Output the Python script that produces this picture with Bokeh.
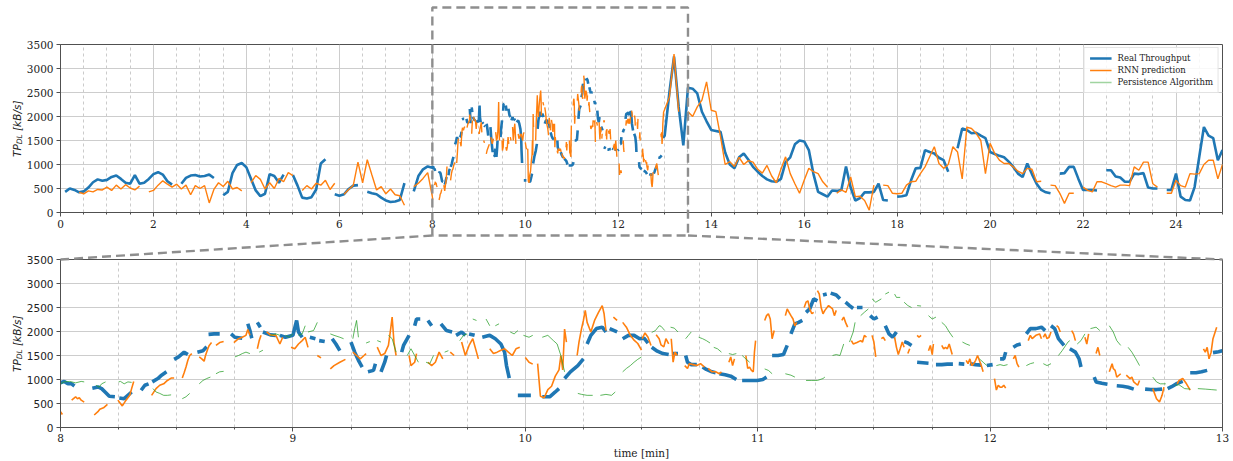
import numpy as np
from bokeh.plotting import figure
from bokeh.layouts import column
from bokeh.models import Range1d, SingleIntervalTicker, Legend, LegendItem
from bokeh.core.properties import value
from bokeh.embed import file_html
from bokeh.resources import INLINE

# ---------------- data (time in minutes, throughput in kB/s) ----------------
# coarse samples, 0.0 .. 7.9 min (step 0.1), None = missing
REAL_A = [None, 430, 500, 470, 420, 440, 520, 630, 690, 660,
          680, 740, 770, 700, 620, 600, 780, 600, 620, 700,
          800, 840, 790, 650, 580, None, 600, 720, 770, 780,
          750, 760, 790, 720, None, 360, 430, 820, 990, 1030,
          940, 700, 460, 340, 390, 800, 760, 620, 790, None,
          780, 560, 310, 290, 320, 480, 1020, 1110, None, 380,
          350, 380, 490, 560, 570, None, 430, 400, 380, 310,
          250, 220, 230, 260, 610, None, 440, 760, 900, 960]
RNN_A = [None, None, None, None, 420, 390, 450, 430, 480, 470,
         530, 460, 570, 490, 580, 510, 470, 550, None, 430,
         460, 570, 660, 590, 530, 590, 490, 570, 370, 560,
         500, 560, 200, 480, 620, 540, 650, 490, 520, 450,
         None, 620, 770, 690, 490, 620, 500, 710, 640, 830,
         770, None, 460, 560, 490, 610, 570, 670, 480, 610,
         None, 380, 480, 570, 1050, 620, 1100, 780, 470, 540,
         390, 490, 370, 350, 150, None, 540, 610, 710, 830]

# coarse samples, 13.1 .. 25.0 min (step 0.1)
REAL_B = [2500, 3250, 2200, 1400, 2600, 2580, 2480, 2100, 1900,
          1720, 1700, 1680, 1250, 1000, 920, 1150, 1230, 1100, 950,
          850, 760, 690, 650, 640, 700, 1050, 1150, 1420, 1500,
          1480, 1300, 800, 430, 380, 330, 460, 450, 470, 960,
          520, 250, 300, 420, 420, 430, 600, 260, 250, None,
          330, 340, 360, 670, 920, 930, 1300, 1260, 1230, 1140,
          1090, 850, None, 1340, 1750, 1720, 1650, 1660, 1600, 1550,
          1260, 1220, 1180, 1150, 1060, 950, 810, 740, 1020, 800,
          600, 470, 420, 400, None, 810, 820, 950, 950, 700,
          470, 470, 470, 460, None, 880, 880, 750, 730, 640,
          640, 810, 800, 820, 520, 500, 500, None, 470, 470,
          810, 330, 260, 250, 530, 1160, 1780, 1600, 1550, 1090,
          1300]
RNN_B = [2400, 3300, 2100, None, 2100, 2000, 2200, 2340, 2720,
         2130, 2100, 1580, 1000, 1060, 960, 1150, 1000, 1080, 1050,
         900, 820, 980, 760, 620, 900, 1160, 810, 600, 400,
         670, 920, 850, 810, 640, 530, None, 400, 470, 420,
         740, 330, 340, 250, 50, 570, None, 570, 560, 400,
         390, 400, 570, 640, 650, 810, 950, 1160, 1370, 1020,
         920, 1000, 1370, 1260, 700, 1780, 1750, 1650, 1500, 810,
         1440, 1230, 1090, 1020, 1020, 950, 860, 810, 920, 900,
         640, 650, None, 570, 560, 400, 190, 400, 400, None,
         530, 460, 430, 640, 640, 600, 560, 530, 570, 570,
         560, 950, 880, 1050, 1050, 600, 530, None, 400, 400,
         670, 560, 530, 810, 800, 810, 1000, 1090, 1090, 700,
         1000]

# fine samples of the zoomed window 8 .. 13 min, as (time, value) segments
REAL_ZOOM = [
    [(8.000, 930), (8.016, 960), (8.032, 910), (8.048, 910), (8.060, 865)],
    [(8.137, 820), (8.161, 845), (8.177, 810), (8.194, 730), (8.210, 650), (8.234, 640)],
    [(8.253, 615), (8.274, 600), (8.290, 670), (8.306, 740)],
    [(8.347, 775), (8.363, 880), (8.379, 910)],
    [(8.395, 950), (8.419, 1020), (8.435, 1090), (8.456, 1160)],
    [(8.489, 1420), (8.508, 1470), (8.532, 1570), (8.548, 1520)],
    [(8.589, 1570), (8.613, 1600), (8.629, 1680)],
    [(8.637, 1940), (8.661, 1950), (8.685, 1950)],
    [(8.734, 1950), (8.750, 1880), (8.782, 1860)],
    [(8.806, 2160), (8.815, 2020), (8.823, 1860)],
    [(8.847, 2190), (8.860, 2090)],
    [(8.871, 1990), (8.903, 1930), (8.927, 1920)],
    [(8.944, 1920), (8.968, 1880), (9.000, 1920), (9.016, 2230), (9.024, 1990), (9.040, 1880)],
    [(9.073, 1880), (9.097, 1850)],
    [(9.113, 1810), (9.137, 1790)],
    [(9.169, 1850), (9.185, 1740), (9.202, 1600)],
    [(9.250, 1780), (9.266, 1570), (9.282, 1400), (9.298, 1260)],
    [(9.323, 1160), (9.347, 1190), (9.355, 1330)],
    [(9.379, 1160), (9.395, 1360), (9.403, 1500)],
    [(9.468, 1570), (9.476, 1710), (9.500, 1920)],
    [(9.524, 2120), (9.532, 2260), (9.548, 2260)],
    [(9.581, 2230), (9.597, 2120)],
    [(9.637, 2160), (9.661, 2020), (9.685, 1990)],
    [(9.702, 1920), (9.726, 1990), (9.742, 1920)],
    [(9.758, 1950), (9.782, 1920)],
    [(9.815, 1880), (9.847, 1920), (9.871, 1850), (9.895, 1740), (9.911, 1570), (9.919, 1290), (9.931, 1030)],
    [(9.968, 670), (9.992, 670), (10.024, 670)],
    [(10.073, 640), (10.105, 640), (10.129, 740), (10.145, 810)],
    [(10.169, 1020), (10.194, 1160), (10.226, 1290), (10.250, 1430)],
    [(10.266, 1740), (10.282, 1920), (10.306, 2060), (10.331, 2090), (10.347, 1990)],
    [(10.363, 2060), (10.395, 1990)],
    [(10.419, 1850), (10.444, 1920), (10.468, 1920), (10.492, 1850), (10.511, 1860), (10.528, 1760)],
    [(10.544, 1670), (10.568, 1590), (10.592, 1540), (10.617, 1520)],
    [(10.633, 1540), (10.657, 1540)],
    [(10.690, 1500), (10.698, 1360), (10.714, 1310), (10.738, 1310)],
    [(10.763, 1260), (10.779, 1210), (10.803, 1160), (10.819, 1140)],
    [(10.835, 1120), (10.860, 1100), (10.884, 1070), (10.908, 1000)],
    [(10.933, 980), (10.965, 980), (10.998, 980), (11.022, 1000), (11.038, 1050)],
    [(11.062, 1500), (11.087, 1500), (11.111, 1520), (11.127, 1710)],
    [(11.143, 1950), (11.160, 2160), (11.176, 2190), (11.192, 2230)],
    [(11.208, 2400), (11.224, 2470), (11.241, 2680), (11.257, 2640)],
    [(11.281, 2760), (11.297, 2780)],
    [(11.314, 2800), (11.338, 2760), (11.354, 2680)],
    [(11.378, 2610), (11.395, 2540), (11.411, 2480)],
    [(11.427, 2500), (11.451, 2500)],
    [(11.484, 2330), (11.500, 2260), (11.516, 2300)],
    [(11.549, 2120), (11.565, 1950), (11.581, 1880), (11.597, 1990)],
    [(11.630, 1790), (11.646, 1760), (11.662, 1710)],
    [(11.686, 1360), (11.711, 1350), (11.735, 1340)],
    [(11.767, 1310), (11.792, 1310), (11.816, 1320), (11.840, 1320)],
    [(11.865, 1330), (11.889, 1320)],
    [(11.913, 1330), (11.938, 1310), (11.962, 1300)],
    [(11.986, 1290), (12.011, 1310)],
    [(12.043, 1430), (12.059, 1430), (12.067, 1570)],
    [(12.100, 1670), (12.116, 1720), (12.132, 1740)],
    [(12.156, 1950), (12.173, 2060), (12.197, 2060), (12.221, 2090), (12.237, 2020)],
    [(12.262, 2120), (12.278, 2060), (12.294, 1850), (12.318, 1710)],
    [(12.343, 1640), (12.367, 1570), (12.383, 1430), (12.391, 1260)],
    [(12.448, 1050), (12.456, 950), (12.481, 920), (12.505, 900)],
    [(12.545, 870), (12.570, 860), (12.594, 840), (12.618, 800)],
    [(12.667, 800), (12.691, 790), (12.716, 790), (12.740, 800)],
    [(12.764, 810), (12.781, 850), (12.805, 920), (12.829, 960)],
    [(12.861, 1140), (12.886, 1140), (12.910, 1160), (12.934, 1190)],
    [(12.959, 1560), (12.983, 1580), (12.999, 1600)],
]

RNN_ZOOM = [
    [(8.000, 330), (8.008, 270)],
    [(8.048, 570), (8.065, 640), (8.073, 600), (8.081, 620), (8.089, 570), (8.102, 530)],
    [(8.145, 260), (8.161, 330), (8.169, 380), (8.185, 410), (8.202, 480)],
    [(8.247, 570), (8.258, 500), (8.266, 450), (8.282, 570), (8.298, 670), (8.306, 810), (8.315, 960)],
    [(8.392, 670), (8.411, 810), (8.427, 880), (8.444, 910), (8.460, 980), (8.476, 1030), (8.489, 1030)],
    [(8.524, 1030), (8.532, 1140), (8.540, 1260), (8.548, 1400), (8.556, 1500), (8.565, 1540)],
    [(8.597, 1470), (8.608, 1430), (8.618, 1380), (8.624, 1500), (8.634, 1640), (8.640, 1710), (8.650, 1770)],
    [(8.669, 1710), (8.685, 1770), (8.702, 1790)],
    [(8.746, 1770), (8.766, 1850), (8.782, 1880), (8.798, 1920), (8.806, 2040), (8.815, 1920)],
    [(8.847, 1640), (8.855, 1810), (8.863, 1920)],
    [(8.887, 1990), (8.903, 1930), (8.927, 1920), (8.944, 1740), (8.956, 1880)],
    [(8.992, 1670), (9.008, 1640), (9.024, 1740), (9.040, 1810), (9.053, 1880), (9.065, 1670)],
    [(9.105, 1500), (9.121, 1450)],
    [(9.161, 1220), (9.177, 1290), (9.202, 1360), (9.226, 1420)],
    [(9.258, 1570), (9.274, 1500), (9.290, 1430), (9.306, 1500), (9.315, 1540)],
    [(9.363, 1675), (9.379, 1500), (9.395, 1540), (9.411, 1710), (9.419, 1990), (9.427, 2300), (9.435, 1770), (9.444, 1500)],
    [(9.500, 1500), (9.508, 1290), (9.524, 1360), (9.532, 1540)],
    [(9.581, 1360), (9.597, 1290), (9.613, 1360), (9.629, 1570), (9.645, 1430)],
    [(9.677, 1570), (9.694, 1500)],
    [(9.726, 1780), (9.742, 1500), (9.758, 1710), (9.774, 1850), (9.790, 1570), (9.798, 1430)],
    [(9.847, 1640), (9.863, 1540), (9.879, 1570), (9.895, 1610), (9.911, 1640), (9.927, 1570), (9.944, 1500), (9.960, 1640), (9.976, 1670)],
    [(10.000, 1460), (10.016, 1360), (10.032, 1320)],
    [(10.053, 1330), (10.065, 650), (10.081, 620), (10.097, 790), (10.113, 860), (10.129, 1070), (10.145, 1200),
     (10.153, 1500), (10.161, 1200), (10.169, 2050), (10.177, 1780)],
    [(10.223, 1500), (10.231, 1780), (10.242, 2060), (10.250, 2230), (10.258, 2440), (10.266, 2190), (10.282, 1990),
     (10.298, 2230), (10.315, 2400), (10.331, 2540), (10.339, 2370), (10.347, 2020)],
    [(10.379, 2300), (10.395, 2230)],
    [(10.419, 2190), (10.435, 2090), (10.452, 1920), (10.468, 1820), (10.484, 1750), (10.500, 1610)],
    [(10.503, 1850), (10.515, 1970), (10.528, 1880), (10.541, 1710)],
    [(10.563, 1930), (10.576, 1850), (10.584, 1720), (10.596, 1680), (10.605, 1850), (10.617, 1740)],
    [(10.628, 1850), (10.636, 1360), (10.644, 1570), (10.654, 1500)],
    [(10.686, 1290), (10.698, 1230), (10.706, 1330), (10.722, 1310), (10.738, 1290), (10.754, 1330), (10.771, 1260)],
    [(10.787, 1230), (10.803, 1160), (10.819, 1160), (10.835, 1120), (10.844, 1160)],
    [(10.876, 1360), (10.884, 1470), (10.892, 1290), (10.900, 1430)],
    [(10.949, 1500), (10.957, 1230), (10.965, 1260), (10.973, 1190), (10.981, 1160), (10.986, 1570), (10.991, 1810)],
    [(11.030, 2230), (11.038, 2330), (11.046, 2370), (11.054, 2260), (11.062, 1850), (11.071, 2020)],
    [(11.119, 2330), (11.127, 2470), (11.135, 2400), (11.143, 2330), (11.152, 2260), (11.160, 2120), (11.168, 2190)],
    [(11.200, 2500), (11.208, 2610), (11.216, 2640), (11.224, 2470), (11.233, 2370), (11.241, 2400)],
    [(11.257, 2850), (11.265, 2780), (11.273, 2500), (11.281, 2370), (11.289, 2440), (11.305, 2540), (11.322, 2470),
     (11.330, 2330), (11.338, 2440)],
    [(11.362, 2230), (11.370, 2300), (11.378, 2190), (11.387, 2090)],
    [(11.403, 1810), (11.411, 1740), (11.427, 1770), (11.443, 1810), (11.451, 1780), (11.459, 1920), (11.468, 1880)],
    [(11.492, 1920), (11.500, 1780), (11.508, 1470)],
    [(11.532, 1850), (11.540, 1880), (11.549, 1810)],
    [(11.589, 1880), (11.597, 1670), (11.605, 1520), (11.613, 1640), (11.622, 1780), (11.630, 1670)],
    [(11.646, 1540), (11.654, 1640)],
    [(11.686, 1920), (11.694, 1880), (11.703, 1920)],
    [(11.735, 1600), (11.743, 1710), (11.751, 1520), (11.756, 1740)],
    [(11.792, 1710), (11.800, 1640), (11.808, 1670), (11.816, 1640), (11.824, 1740), (11.837, 1520)],
    [(11.897, 1400), (11.905, 1330), (11.913, 1430), (11.921, 1290), (11.929, 1330), (11.938, 1400), (11.946, 1500),
     (11.962, 1290), (11.970, 1160)],
    [(12.019, 1020), (12.027, 780), (12.035, 880), (12.043, 840), (12.051, 840), (12.059, 880), (12.067, 820)],
    [(12.100, 1430), (12.108, 1500), (12.116, 1330), (12.124, 1260)],
    [(12.164, 1810), (12.173, 1920), (12.181, 1850), (12.197, 1920), (12.213, 1950), (12.221, 1850)],
    [(12.229, 1880), (12.237, 1950), (12.245, 1850), (12.254, 1880), (12.262, 1990)],
    [(12.286, 2120), (12.294, 2090), (12.302, 1990)],
    [(12.351, 2020), (12.359, 1950), (12.367, 1810)],
    [(12.408, 1880), (12.416, 1740), (12.424, 1950)],
    [(12.456, 1540), (12.464, 1670), (12.472, 1500)],
    [(12.513, 1160), (12.525, 1330), (12.530, 1230), (12.538, 1190), (12.545, 1050), (12.562, 1120)],
    [(12.586, 1090), (12.602, 1020), (12.610, 1050), (12.618, 950), (12.635, 880), (12.643, 980)],
    [(12.700, 810), (12.716, 600), (12.729, 530), (12.740, 670), (12.748, 840)],
    [(12.805, 910), (12.813, 980), (12.829, 1020), (12.845, 910), (12.861, 780)],
    [(12.918, 1640), (12.926, 1570), (12.934, 1670), (12.942, 1430), (12.951, 1570), (12.959, 1850), (12.975, 2090)],
]

PERSIST_ZOOM = [
    [(8.000, 910), (8.016, 950), (8.040, 960), (8.065, 930), (8.089, 960), (8.102, 950)],
    [(8.153, 880), (8.166, 840), (8.177, 910), (8.194, 950)],
    [(8.250, 950), (8.258, 960), (8.274, 910), (8.290, 950), (8.306, 940)],
    [(8.398, 810), (8.411, 740), (8.427, 710), (8.444, 670), (8.460, 670), (8.476, 680)],
    [(8.524, 600), (8.540, 640), (8.556, 710)],
    [(8.597, 910), (8.613, 980), (8.629, 1020), (8.645, 1050)],
    [(8.669, 1120), (8.685, 1160), (8.702, 1170)],
    [(8.750, 1470), (8.766, 1500), (8.782, 1540), (8.798, 1570), (8.815, 1540)],
    [(8.855, 1570), (8.871, 1610)],
    [(8.903, 1920), (8.927, 1950), (8.944, 1920)],
    [(8.968, 1920), (8.984, 1880), (9.000, 1950)],
    [(9.024, 1920), (9.040, 1950), (9.053, 2120)],
    [(9.065, 1990), (9.089, 2020), (9.105, 2190)],
    [(9.161, 1950), (9.177, 1920), (9.202, 1880), (9.218, 1850)],
    [(9.258, 1850), (9.266, 2060), (9.274, 2230), (9.282, 1880)],
    [(9.315, 1760), (9.331, 1790)],
    [(9.363, 1810), (9.379, 1780)],
    [(9.411, 1920), (9.427, 1850), (9.444, 1570)],
    [(9.492, 1500), (9.508, 1640), (9.524, 1500), (9.540, 1360)],
    [(9.573, 1360), (9.589, 1330), (9.605, 1500)],
    [(9.653, 1570), (9.669, 1600)],
    [(9.718, 1810), (9.734, 1920), (9.750, 1950)],
    [(9.774, 2260), (9.790, 2230)],
    [(9.831, 2260), (9.847, 2120)],
    [(9.871, 2120), (9.887, 2160)],
    [(9.935, 1990), (9.952, 1950), (9.968, 2020)],
    [(9.992, 1920), (10.016, 1880), (10.032, 1920)],
    [(10.073, 1880), (10.097, 1920), (10.121, 1810), (10.137, 1740), (10.153, 1500), (10.169, 1160)],
    [(10.226, 710), (10.242, 690), (10.266, 670), (10.290, 670)],
    [(10.323, 670), (10.347, 690), (10.371, 670), (10.387, 740)],
    [(10.419, 1160), (10.435, 1230), (10.452, 1290), (10.468, 1360), (10.484, 1420), (10.500, 1470)],
    [(10.544, 1980), (10.560, 2020), (10.576, 2120), (10.584, 2110), (10.600, 2020)],
    [(10.625, 2090), (10.641, 2070), (10.657, 1990)],
    [(10.690, 1850), (10.702, 1920), (10.714, 1990)],
    [(10.746, 1880), (10.763, 1850), (10.779, 1810), (10.795, 1760)],
    [(10.811, 1670), (10.827, 1640), (10.844, 1570)],
    [(10.876, 1540), (10.892, 1520), (10.908, 1540)],
    [(10.933, 1500), (10.949, 1430), (10.965, 1360)],
    [(11.030, 1220), (11.046, 1190), (11.062, 1120)],
    [(11.119, 1120), (11.143, 1090), (11.160, 1050)],
    [(11.208, 980), (11.233, 980), (11.257, 980), (11.281, 1020), (11.289, 1050)],
    [(11.322, 1500), (11.338, 1520), (11.354, 1500), (11.370, 1740)],
    [(11.395, 1780), (11.411, 1990), (11.419, 2190)],
    [(11.443, 2330), (11.459, 2400), (11.476, 2470)],
    [(11.492, 2680), (11.508, 2610), (11.532, 2680)],
    [(11.549, 2780), (11.565, 2820)],
    [(11.589, 2780), (11.597, 2710), (11.613, 2710)],
    [(11.630, 2610), (11.646, 2540), (11.662, 2500)],
    [(11.686, 2540), (11.703, 2530)],
    [(11.735, 2330), (11.751, 2260), (11.767, 2300)],
    [(11.792, 2190), (11.808, 2120), (11.824, 1990), (11.840, 1880)],
    [(11.881, 1780), (11.897, 1740), (11.913, 1710)],
    [(11.954, 1430), (11.970, 1360), (11.986, 1290)],
    [(12.027, 1290), (12.043, 1310), (12.059, 1290), (12.075, 1310)],
    [(12.156, 1290), (12.173, 1330), (12.189, 1350)],
    [(12.229, 1330), (12.245, 1290), (12.262, 1330)],
    [(12.294, 1500), (12.310, 1600), (12.335, 1780), (12.343, 1810)],
    [(12.375, 1740), (12.391, 1810), (12.408, 1950)],
    [(12.432, 2060), (12.456, 2090), (12.472, 2020)],
    [(12.513, 2120), (12.530, 1990), (12.545, 1810), (12.562, 1710)],
    [(12.594, 1670), (12.610, 1570), (12.627, 1430), (12.643, 1290)],
    [(12.700, 1050), (12.716, 950), (12.732, 910), (12.756, 910)],
    [(12.797, 880), (12.813, 890), (12.837, 810), (12.861, 800)],
    [(12.894, 810), (12.926, 800), (12.951, 790), (12.975, 780)],
]

SERIES_NAMES = ["Real Throughput", "RNN prediction", "Persistence Algorithm"]
COLORS = ["#1f77b4", "#ff7f0e", "#2ca02c"]
TOP_XTICK_STEP = 2
BOT_XTICK_STEP = 1
Y_TICK_STEP = 500
TOP_XRANGE = (0, 25)
ZOOM_XRANGE = (8, 13)
INSET_END = 13.5
Y_MAX = 3500
Y_LABEL = ["TP", "DL", "[kB/s]"]


def flatten(segments):
    xs, ys = [], []
    for i, seg in enumerate(segments):
        if i:
            xs.append(np.nan)
            ys.append(np.nan)
        for t, v in seg:
            xs.append(t)
            ys.append(v)
    return xs, ys


def coarse_times(start, n):
    return list(np.round(start + 0.1 * np.arange(n), 2))


def as_float(vals):
    return list(np.array(vals, dtype=float))


real_zx, real_zy = flatten(REAL_ZOOM)
rnn_zx, rnn_zy = flatten(RNN_ZOOM)
per_zx, per_zy = flatten(PERSIST_ZOOM)

real_tx = coarse_times(0.0, len(REAL_A)) + real_zx + coarse_times(13.1, len(REAL_B))
real_ty = as_float(REAL_A) + real_zy + as_float(REAL_B)
rnn_tx = coarse_times(0.0, len(RNN_A)) + rnn_zx + coarse_times(13.1, len(RNN_B))
rnn_ty = as_float(RNN_A) + rnn_zy + as_float(RNN_B)

# ---------------- layout geometry (page has no margin) ----------------
FRAME_W = 1162
LEFT, RIGHT = 60, 10
TOP_BT, TOP_FH, TOP_BB = 44, 168, 33
BOT_BT, BOT_FH, BOT_BB = 14, 168, 33
GRID_C = "#cdcdcd"
SPINE_C = "#505050"
INSET_C = "#8e8e8e"
TXT_C = "#222222"


def style(p, xstep, minor, xfont, yfont):
    p.background_fill_color = "white"
    p.border_fill_color = "white"
    p.outline_line_color = SPINE_C
    p.outline_line_width = 1
    p.xaxis.ticker = SingleIntervalTicker(interval=xstep, num_minor_ticks=minor)
    p.yaxis.ticker = SingleIntervalTicker(interval=Y_TICK_STEP, num_minor_ticks=0)
    for ax, f in ((p.xaxis[0], xfont), (p.yaxis[0], yfont)):
        ax.axis_line_color = SPINE_C
        ax.major_tick_line_color = SPINE_C
        ax.minor_tick_line_color = SPINE_C
        ax.major_tick_out = 4
        ax.major_tick_in = 0
        ax.minor_tick_out = 2
        ax.minor_tick_in = 0
        ax.major_label_text_font = f
        ax.major_label_text_font_size = "10.5px"
        ax.major_label_text_color = TXT_C
        ax.major_label_standoff = 3
    p.yaxis.minor_tick_line_color = None
    p.xgrid.grid_line_color = GRID_C
    p.xgrid.grid_line_width = 1
    p.xgrid.minor_grid_line_color = "#b5b5b5"
    p.xgrid.minor_grid_line_dash = "3 3"
    p.xgrid.minor_grid_line_width = 0.7
    p.ygrid.grid_line_color = GRID_C
    p.ygrid.grid_line_width = 1


def ylabel(p, xr, fh):
    ux = (xr[1] - xr[0]) / FRAME_W
    uy = Y_MAX / fh
    start = fh / 2 - 28.5
    offs = [0.0, 12.7, 26.0]
    sizes = ["10.5px", "7.5px", "10.5px"]
    dxs = [0.0, 3.3, 0.0]
    for txt, off, size, dx in zip(Y_LABEL, offs, sizes, dxs):
        p.text(x=[xr[0] + (-44 + dx) * ux], y=[(start + off) * uy], text=[txt],
               angle=np.pi / 2, text_font=value("DejaVu Sans"), text_font_style="italic",
               text_font_size=size, text_color=TXT_C, text_align="left",
               text_baseline="middle", level="overlay")


# ---------------- top panel ----------------
top = figure(frame_width=FRAME_W, frame_height=TOP_FH, x_range=Range1d(*TOP_XRANGE),
             y_range=Range1d(0, Y_MAX), output_backend="svg", toolbar_location=None,
             min_border_left=LEFT, min_border_right=RIGHT, min_border_top=TOP_BT,
             min_border_bottom=TOP_BB)
style(top, TOP_XTICK_STEP, 4, "DejaVu Serif", "DejaVu Serif")
r_real = top.line(real_tx, real_ty, line_color=COLORS[0], line_width=2.6)
r_rnn = top.line(rnn_tx, rnn_ty, line_color=COLORS[1], line_width=1.4)
r_per = top.line([TOP_XRANGE[0]], [np.nan], line_color=COLORS[2], line_width=1.6, line_alpha=0.45)
legend = Legend(items=[LegendItem(label=SERIES_NAMES[0], renderers=[r_real]),
                       LegendItem(label=SERIES_NAMES[1], renderers=[r_rnn]),
                       LegendItem(label=SERIES_NAMES[2], renderers=[r_per])],
                location="top_right")
legend.label_text_font = "DejaVu Serif"
legend.label_text_font_size = "8.5px"
legend.label_text_color = TXT_C
legend.glyph_width = 22
legend.glyph_height = 10
legend.label_height = 10
legend.spacing = 2
legend.padding = 5
legend.margin = 3
legend.label_standoff = 6
legend.border_line_color = "#cccccc"
legend.background_fill_alpha = 0.85
top.add_layout(legend)
ylabel(top, TOP_XRANGE, TOP_FH)

# inset rectangle + connectors (in top-panel coordinates)
uy_t = Y_MAX / TOP_FH
gap = TOP_BB + BOT_BT
r_top = Y_MAX + 37 * uy_t
r_bot = -23 * uy_t
dash = dict(line_color=INSET_C, line_width=2.4, line_dash="9 5", level="overlay")
top.line([ZOOM_XRANGE[0], ZOOM_XRANGE[0], INSET_END, INSET_END, ZOOM_XRANGE[0]],
         [r_bot, r_top, r_top, r_bot, r_bot], **dash)
top.line([ZOOM_XRANGE[0], TOP_XRANGE[0]], [r_bot, -gap * uy_t], **dash)
top.line([INSET_END, TOP_XRANGE[1]], [r_bot, -gap * uy_t], **dash)

# ---------------- bottom (zoom) panel ----------------
bot = figure(frame_width=FRAME_W, frame_height=BOT_FH, x_range=Range1d(*ZOOM_XRANGE),
             y_range=Range1d(0, Y_MAX), output_backend="svg", toolbar_location=None,
             min_border_left=LEFT, min_border_right=RIGHT, min_border_top=BOT_BT,
             min_border_bottom=BOT_BB)
style(bot, BOT_XTICK_STEP, 4, "DejaVu Serif", "DejaVu Sans")
bot.xaxis.axis_label = "time [min]"
bot.xaxis.axis_label_text_font = "DejaVu Serif"
bot.xaxis.axis_label_text_font_style = "normal"
bot.xaxis.axis_label_text_font_size = "10.5px"
bot.xaxis.axis_label_text_color = TXT_C
bot.xaxis.axis_label_standoff = 2
bot.xaxis.major_label_standoff = 2
bot.line(real_zx, real_zy, line_color=COLORS[0], line_width=3.6)
bot.line(rnn_zx, rnn_zy, line_color=COLORS[1], line_width=1.6)
bot.line(per_zx, per_zy, line_color=COLORS[2], line_width=0.9, line_alpha=0.85)
ylabel(bot, ZOOM_XRANGE, BOT_FH)

scale = (ZOOM_XRANGE[1] - ZOOM_XRANGE[0]) / (TOP_XRANGE[1] - TOP_XRANGE[0])
uy_b = Y_MAX / BOT_FH
yc = Y_MAX + (gap - 23) * uy_b
xl = ZOOM_XRANGE[0] + ZOOM_XRANGE[0] * scale
xr = ZOOM_XRANGE[0] + INSET_END * scale
bot.line([xl, ZOOM_XRANGE[0]], [yc, Y_MAX], **dash)
bot.line([xr, ZOOM_XRANGE[1]], [yc, Y_MAX], **dash)

layout = column(top, bot, spacing=0)
open("out.html", "w").write(file_html(layout, INLINE))
